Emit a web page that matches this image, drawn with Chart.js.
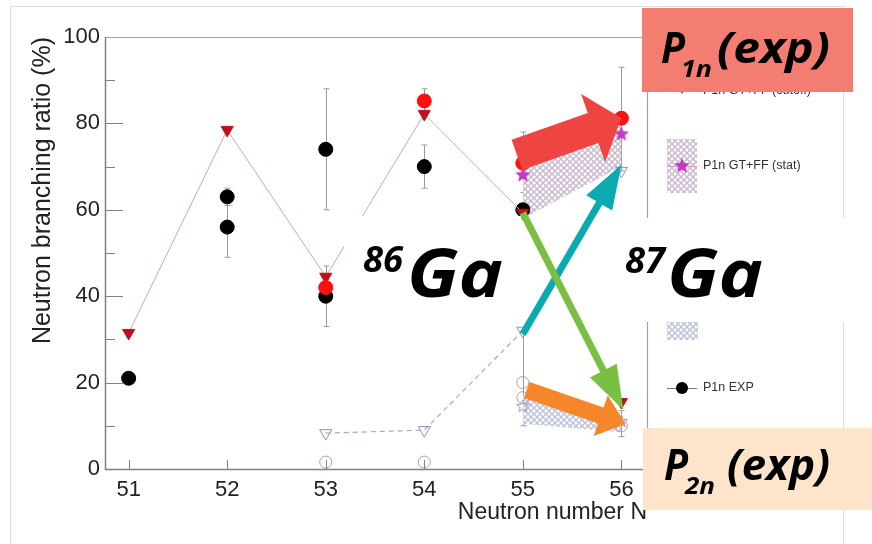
<!DOCTYPE html>
<html>
<head>
<meta charset="utf-8">
<script src="https://cdn.jsdelivr.net/npm/chart.js@4.4.1/dist/chart.umd.min.js"></script>
<style>
html, body { margin: 0; padding: 0; background: #fff; }
</style>
</head>
<body>
<canvas id="c" width="872" height="544"></canvas>
<script>
// values
var xTicks = [51, 52, 53, 54, 55, 56];
var yTicks = [0, 10, 20, 30, 40, 50, 60, 70, 80, 90, 100];

// P1n GT+FF (cutoff) - red down triangles with line
var cutoffN = [51, 52, 53, 54, 55, 56];
var cutoffVal = [31.5, 78.5, 44.5, 82.2, 59.3, 15.5];

// red filled circles
var redN = [53, 54, 55, 56];
var redVal = [42, 85.2, 70.8, 81.2];
var redLo = [40, 82, 64, 69];
var redHi = [44, 88, 78, 93];

// P1n EXP - black circles
var expN = [51, 52, 52, 53, 53, 54, 55];
var expVal = [21, 63, 56, 74, 40, 70, 60];
var expLo = [null, 61, 49, 60, 33, 65, null];
var expHi = [null, 65, 63, 88, 47, 75, null];

// P1n GT+FF (stat) - stars and band
var statN = [55, 56];
var statVal = [68, 77.5];
var statLo = [58, 70];
var statHi = [73, 80];

// P2n cutoff - open triangles, dashed
var p2cutN = [53, 54, 55, 56];
var p2cutVal = [8.3, 9, 32, 69];
var p2cutLo = [null, null, 10, null];

// P2n open circles
var p2circN = [53, 54, 55, 55, 56];
var p2circVal = [1.6, 1.6, 20, 16.5, 10];

// P2n stat - open stars and band
var p2statN = [55, 56];
var p2statVal = [14.5, 11];
var p2statLo = [10.5, 8.5];
var p2statHi = [17, 13];
var p2errLo = [null, 7.5];
var p2errHi = [null, 13.5];

var legendLabels = ["P1n GT+FF (cutoff)", "P1n GT+FF (stat)", "P1n EXP"];

function pts(xs, ys) {
  return xs.map(function (x, i) { return { x: x, y: ys[i] }; });
}

var ctx = document.getElementById("c").getContext("2d");
var bigFont = "'Open Sans', 'Noto Sans', sans-serif";

function hatch(color) {
  var c = document.createElement("canvas");
  c.width = 6; c.height = 6;
  var g = c.getContext("2d");
  g.fillStyle = "#fff";
  g.fillRect(0, 0, 6, 6);
  g.strokeStyle = color;
  g.lineWidth = 1.5;
  g.beginPath();
  g.moveTo(0, 0); g.lineTo(6, 6);
  g.moveTo(6, 0); g.lineTo(0, 6);
  g.stroke();
  return ctx.createPattern(c, "repeat");
}

function starImg(size, fill, stroke) {
  var c = document.createElement("canvas");
  c.width = size; c.height = size;
  var g = c.getContext("2d");
  var r = size / 2 - 1, ri = r * 0.45;
  g.beginPath();
  for (var i = 0; i < 10; i++) {
    var a = -Math.PI / 2 + i * Math.PI / 5;
    var rr = i % 2 ? ri : r;
    g.lineTo(size / 2 + rr * Math.cos(a), size / 2 + rr * Math.sin(a));
  }
  g.closePath();
  if (fill) { g.fillStyle = fill; g.fill(); }
  if (stroke) { g.strokeStyle = stroke; g.lineWidth = 1; g.stroke(); }
  return c;
}

var purpleHatch = hatch("#c9b9cf");
var blueHatch = hatch("#bcc3da");
var magStar = starImg(18, "#c03cc0", null);
var openStar = starImg(15, null, "#8d93bf");

// error bars drawn through the scales
var errBars = [
  { n: expN, lo: expLo, hi: expHi },
  { n: redN, lo: redLo, hi: redHi },
  { n: p2cutN, lo: p2cutLo, hi: p2cutVal },
  { n: p2statN, lo: p2errLo, hi: p2errHi }
];

var errPlugin = {
  id: "errbars",
  beforeDatasetsDraw: function (chart) {
    var c = chart.ctx, xs = chart.scales.x, ys = chart.scales.y;
    c.save();
    c.strokeStyle = "#9a9a9a";
    c.lineWidth = 1;
    errBars.forEach(function (e) {
      e.n.forEach(function (n, i) {
        if (e.lo[i] == null || e.hi[i] == null) return;
        var px = Math.round(xs.getPixelForValue(n)) + 0.5;
        var y1 = ys.getPixelForValue(e.lo[i]), y2 = ys.getPixelForValue(e.hi[i]);
        c.beginPath();
        c.moveTo(px, y1); c.lineTo(px, y2);
        c.moveTo(px - 3, y1); c.lineTo(px + 3, y1);
        c.moveTo(px - 3, y2); c.lineTo(px + 3, y2);
        c.stroke();
      });
    });
    c.restore();
  }
};

function blockArrow(c, x1, y1, x2, y2, bw, hw, hl, color) {
  var dx = x2 - x1, dy = y2 - y1, L = Math.hypot(dx, dy);
  var ux = dx / L, uy = dy / L, px = -uy, py = ux;
  var bx = x2 - ux * hl, by = y2 - uy * hl;
  c.beginPath();
  c.moveTo(x1 + px * bw / 2, y1 + py * bw / 2);
  c.lineTo(bx + px * bw / 2, by + py * bw / 2);
  c.lineTo(bx + px * hw / 2, by + py * hw / 2);
  c.lineTo(x2, y2);
  c.lineTo(bx - px * hw / 2, by - py * hw / 2);
  c.lineTo(bx - px * bw / 2, by - py * bw / 2);
  c.lineTo(x1 - px * bw / 2, y1 - py * bw / 2);
  c.closePath();
  c.fillStyle = color;
  c.fill();
}

function fitText(c, str, x, base, font, width) {
  c.font = font;
  var w = c.measureText(str).width;
  c.save();
  c.translate(x, base);
  c.scale(width / w, 1);
  c.textAlign = "left";
  c.textBaseline = "alphabetic";
  c.fillText(str, 0, 0);
  c.restore();
}

var framePlugin = {
  id: "frame",
  beforeDraw: function (chart) {
    var c = chart.ctx;
    c.save();
    c.fillStyle = "#fff";
    c.fillRect(0, 0, chart.width, chart.height);
    c.strokeStyle = "#dcdcdc";
    c.lineWidth = 1;
    c.strokeRect(10.5, 6.5, 833, 600);
    c.restore();
  },
  afterDatasetsDraw: function (chart) {
    var c = chart.ctx, a = chart.chartArea, xs = chart.scales.x, ys = chart.scales.y;
    c.save();
    // box
    c.strokeStyle = "#a0a0a0";
    c.lineWidth = 1.2;
    c.beginPath();
    c.moveTo(a.left, a.top + 0.5); c.lineTo(a.right + 0.5, a.top + 0.5); c.lineTo(a.right + 0.5, a.bottom);
    c.stroke();
    c.strokeStyle = "#808080";
    c.lineWidth = 1.5;
    c.beginPath();
    c.moveTo(a.left + 0.5, a.top); c.lineTo(a.left + 0.5, a.bottom + 0.5); c.lineTo(a.right + 1, a.bottom + 0.5);
    c.stroke();
    // ticks pointing inward
    c.lineWidth = 1;
    c.beginPath();
    yTicks.forEach(function (v) {
      var py = Math.round(ys.getPixelForValue(v)) + 0.5;
      var len = v % 20 === 0 ? 18 : 10;
      if (v === 0 || v === 100) return;
      c.moveTo(a.left, py); c.lineTo(a.left + len, py);
    });
    xTicks.forEach(function (v) {
      var px = Math.round(xs.getPixelForValue(v)) + 0.5;
      c.moveTo(px, a.bottom); c.lineTo(px, a.bottom - 9);
    });
    c.stroke();

    // legend panel
    var lx = 682;
    c.font = "12.5px 'Liberation Sans', Arial, sans-serif";
    c.textBaseline = "middle";
    c.textAlign = "left";
    // cutoff entry
    c.fillStyle = "#c0101a";
    c.beginPath();
    c.moveTo(lx - 7, 82); c.lineTo(lx + 7, 82); c.lineTo(lx, 94); c.closePath(); c.fill();
    c.fillStyle = "#333";
    c.fillText(legendLabels[0], 703, 91);
    // stat entry
    c.fillStyle = purpleHatch;
    c.fillRect(667, 139, 30, 54);
    c.strokeStyle = "#d69bd6";
    c.beginPath(); c.moveTo(667, 166.5); c.lineTo(697, 166.5); c.stroke();
    c.drawImage(magStar, lx - 9, 166 - 9);
    c.fillStyle = "#333";
    c.fillText(legendLabels[1], 703, 166);
    // p2n band entry
    c.fillStyle = blueHatch;
    c.fillRect(667, 288, 31, 52);
    // exp entry
    c.strokeStyle = "#777";
    c.beginPath(); c.moveTo(667, 388.5); c.lineTo(697, 388.5); c.stroke();
    c.fillStyle = "#000";
    c.beginPath(); c.arc(lx, 388, 6, 0, Math.PI * 2); c.fill();
    c.fillStyle = "#333";
    c.fillText(legendLabels[2], 703, 388);
    c.restore();
  },
  afterDraw: function (chart) {
    var c = chart.ctx, xs = chart.scales.x, ys = chart.scales.y;
    function P(n, v) { return [xs.getPixelForValue(n), ys.getPixelForValue(v)]; }
    c.save();
    // white boxes behind isotope labels
    c.fillStyle = "#fff";
    c.fillRect(344, 216, 177, 100);
    c.fillRect(601, 218, 271, 104);
    // isotope labels
    c.fillStyle = "#000";
    fitText(c, "86", 363, 272, "italic bold 35px " + bigFont, 40);
    fitText(c, "Ga", 407, 297, "italic bold 66px " + bigFont, 96);
    fitText(c, "87", 625, 273, "italic bold 35px " + bigFont, 40);
    fitText(c, "Ga", 667, 297, "italic bold 66px " + bigFont, 96);
    // arrows
    var a, b;
    a = P(54.94, 72.7); b = P(56.0, 81.25);
    blockArrow(c, a[0], a[1], b[0], b[1], 32, 72, 30, "#ee4541");
    a = P(55.0, 31.25); b = P(56.0, 70.4);
    blockArrow(c, a[0], a[1], b[0], b[1], 7, 30, 44, "#0aaab0");
    a = P(55.0, 59.3); b = P(56.02, 13.7);
    blockArrow(c, a[0], a[1], b[0], b[1], 7, 30, 44, "#79bf43");
    a = P(55.04, 18.3); b = P(56.04, 10.4);
    blockArrow(c, a[0], a[1], b[0], b[1], 17, 43, 26, "#f5872a");
    // P1n / P2n boxes
    c.fillStyle = "#f47d72";
    c.fillRect(642, 8, 211, 84);
    c.fillStyle = "#fde4cb";
    c.fillRect(643, 428, 229, 82);
    c.fillStyle = "#000";
    fitText(c, "P", 661, 63, "italic bold 43px " + bigFont, 24);
    fitText(c, "1n", 681, 77, "italic bold 24px " + bigFont, 31);
    fitText(c, "(exp)", 717, 63, "italic bold 43px " + bigFont, 113);
    fitText(c, "P", 664, 480, "italic bold 43px " + bigFont, 24);
    fitText(c, "2n", 685, 494, "italic bold 24px " + bigFont, 30);
    fitText(c, "(exp)", 727, 480, "italic bold 43px " + bigFont, 103);
    c.restore();
  }
};

var chart = new Chart(ctx, {
  type: "scatter",
  data: {
    datasets: [
      { label: "statHi", data: pts(statN, statHi), showLine: true, borderWidth: 0, pointRadius: 0,
        fill: "+1", backgroundColor: purpleHatch, order: 20 },
      { label: "statLo", data: pts(statN, statLo), showLine: true, borderWidth: 0, pointRadius: 0, order: 20 },
      { label: "p2Hi", data: pts(p2statN, p2statHi), showLine: true, borderWidth: 0, pointRadius: 0,
        fill: "+1", backgroundColor: blueHatch, order: 20 },
      { label: "p2Lo", data: pts(p2statN, p2statLo), showLine: true, borderWidth: 0, pointRadius: 0, order: 20 },
      { label: "P2n cutoff", data: pts(p2cutN, p2cutVal), showLine: true, borderColor: "#a4a8cc",
        borderWidth: 1.2, borderDash: [5, 4], pointStyle: "triangle", rotation: 180, pointRadius: 7,
        pointBorderColor: "#8a90c0", pointBackgroundColor: "rgba(255,255,255,0)", pointBorderWidth: 1, order: 8 },
      { label: "P2n exp", data: pts(p2circN, p2circVal), pointStyle: "circle", pointRadius: 6,
        pointBorderColor: "#b89a9a", pointBackgroundColor: "rgba(255,255,255,0)", pointBorderWidth: 1, order: 7 },
      { label: "P2n stat", data: pts(p2statN, p2statVal), pointStyle: openStar, order: 7 },
      { label: legendLabels[2], data: pts(expN, expVal), pointStyle: "circle", pointRadius: 7,
        pointBackgroundColor: "#000", pointBorderColor: "#000", order: 5 },
      { label: legendLabels[0], data: pts(cutoffN, cutoffVal), showLine: true, borderColor: "#c8aaac",
        borderWidth: 1, pointStyle: "triangle", rotation: 180, pointRadius: 7,
        pointBackgroundColor: "#c0101a", pointBorderColor: "#c0101a", order: 4 },
      { label: "P1n exp", data: pts(redN, redVal), pointStyle: "circle", pointRadius: 7,
        pointBackgroundColor: "#ff1010", pointBorderColor: "#ff1010", order: 3 },
      { label: legendLabels[1], data: pts(statN, statVal), pointStyle: magStar, order: 2 }
    ].map(function (d) { d.clip = false; return d; })
  },
  options: {
    responsive: false,
    animation: false,
    layout: { padding: { left: 0, top: 37, right: 225, bottom: 0 } },
    plugins: { legend: { display: false }, tooltip: { enabled: false } },
    scales: {
      x: {
        type: "linear", min: 50.76, max: 56.26,
        grid: { display: false, drawTicks: false },
        border: { display: false },
        afterBuildTicks: function (s) { s.ticks = xTicks.map(function (v) { return { value: v }; }); },
        afterFit: function (s) { s.height = 75; },
        ticks: { padding: 8, color: "#222", autoSkip: false, maxRotation: 0,
          font: { size: 22, family: "'Liberation Sans', Arial, sans-serif" } },
        title: { display: true, text: "Neutron number N", align: "end", color: "#222",
          font: { size: 23, family: "'Liberation Sans', Arial, sans-serif" },
          padding: { top: 0, bottom: 18 } }
      },
      y: {
        min: 0, max: 100,
        grid: { display: false, drawTicks: false },
        border: { display: false },
        afterBuildTicks: function (s) { s.ticks = yTicks.map(function (v) { return { value: v }; }); },
        afterFit: function (s) { s.width = 105; },
        ticks: { padding: 5, color: "#222", autoSkip: false,
          callback: function (v) { return v % 20 === 0 ? v : ""; },
          font: { size: 22, family: "'Liberation Sans', Arial, sans-serif" } },
        title: { display: true, text: "Neutron branching ratio (%)", align: "end", color: "#222",
          font: { size: 25, family: "'Liberation Sans', Arial, sans-serif" },
          padding: { top: 28, bottom: 0 } }
      }
    }
  },
  plugins: [framePlugin, errPlugin]
});
</script>
</body>
</html>
